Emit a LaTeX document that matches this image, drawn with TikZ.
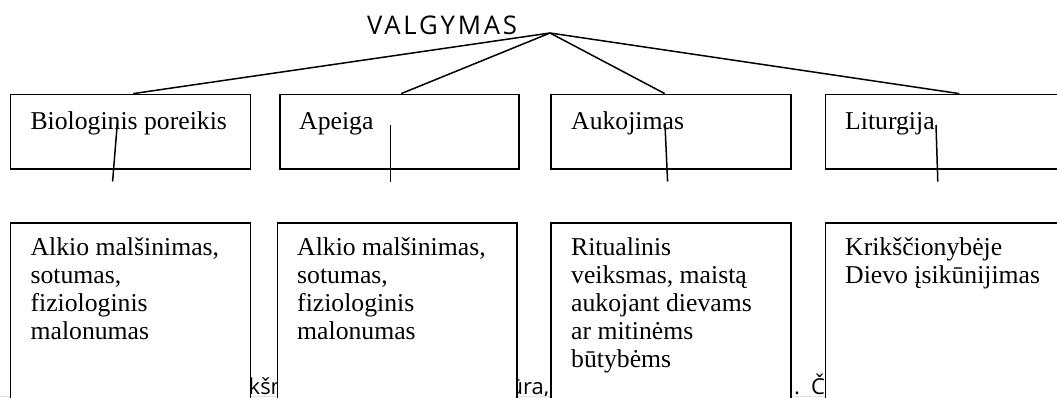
\documentclass[tikz,border=0pt]{standalone}
\usepackage{fontspec}
\setmainfont{Liberation Serif}
\newfontfamily\uisans{Open Sans}
\begin{document}
\begin{tikzpicture}[x=1pt,y=-1pt,
  box/.style={draw, line width=1.5pt, fill=white, inner sep=0pt, anchor=north west, minimum width=240pt},
  topbox/.style={box, minimum height=74.4pt},
  lowbox/.style={box, minimum height=200pt},
  serif/.style={font=\fontsize{25.7}{27.8}\selectfont, anchor=base west, inner sep=0pt, align=left},
  bgtext/.style={font=\uisans\fontsize{22}{26}\selectfont, inner sep=0pt},
  link/.style={line width=1.5pt}]
\useasboundingbox (0,0) rectangle (1057,397);
\clip (0,0) rectangle (1057,397);
% background text, partly hidden
\node[bgtext, anchor=base west] (bg1) at (248.5,394) {kšm};
\node[bgtext, anchor=base east] (bg2) at (549.5,394) {tūra,};
\node[bgtext, anchor=base west] (bg3) at (794,394) {.};
\node[bgtext, anchor=base west] (bg4) at (811,394) {Č};
\coordinate (edgeL) at (0,396);
\coordinate (edgeR) at (1057,396);
\draw[black!12, line width=1pt] (edgeL) -- (edgeR);
% title
\node[font=\uisans\fontsize{25.7}{30}\selectfont\addfontfeature{LetterSpace=11}, anchor=base west, inner sep=0pt] (title) at (367,34) {VALGYMAS};
\coordinate (apex) at (550,33);
% top boxes
\node[topbox] (b1) at (9.5,93.6) {};
\node[topbox, minimum width=239pt] (b2) at (279,93.6) {};
\node[topbox] (b3) at (550,93.6) {};
\node[topbox] (b4) at (824.5,93.6) {};
\node[serif] (t1) at (30.4,129) {Biologinis poreikis};
\node[serif] (t2) at (299,129) {Apeiga};
\node[serif] (t3) at (571,129) {Aukojimas};
\node[serif] (t4) at (845,129) {Liturgija};
% bottom boxes
\node[lowbox] (c1) at (9.5,222) {};
\node[lowbox, minimum width=239.5pt] (c2) at (276.5,222) {};
\node[lowbox] (c3) at (550,222) {};
\node[lowbox] (c4) at (824.5,222) {};
% anchors at the baseline of the last line
\node[serif] (u1) at (30.4,339.2) {Alkio malšinimas,\\sotumas,\\fiziologinis\\malonumas};
\node[serif] (u2) at (297,339.2) {Alkio malšinimas,\\sotumas,\\fiziologinis\\malonumas};
\node[serif] (u3) at (571,367) {Ritualinis\\veiksmas, maistą\\aukojant dievams\\ar mitinėms\\būtybėms};
\node[serif] (u4) at (845,283.6) {Krikščionybėje\\Dievo įsikūnijimas};
% connectors from the title
\draw[link] (apex) -- ([xshift=3pt]b1.north);
\draw[link] (apex) -- ([xshift=2pt]b2.north);
\draw[link] (apex) -- ([xshift=-6pt]b3.north);
\draw[link] (apex) -- ([xshift=14pt]b4.north);
% short stems
\coordinate (s1a) at (117.3,123.4); \coordinate (s1b) at (112.6,181.5);
\coordinate (s2a) at (390.5,125);   \coordinate (s2b) at (390.5,181.5);
\coordinate (s3a) at (665,125);     \coordinate (s3b) at (667.6,181.5);
\coordinate (s4a) at (936,125);     \coordinate (s4b) at (937.8,181.5);
\draw[link] (s1a) -- (s1b);
\draw[link] (s2a) -- (s2b);
\draw[link] (s3a) -- (s3b);
\draw[link] (s4a) -- (s4b);
\end{tikzpicture}
\end{document}
